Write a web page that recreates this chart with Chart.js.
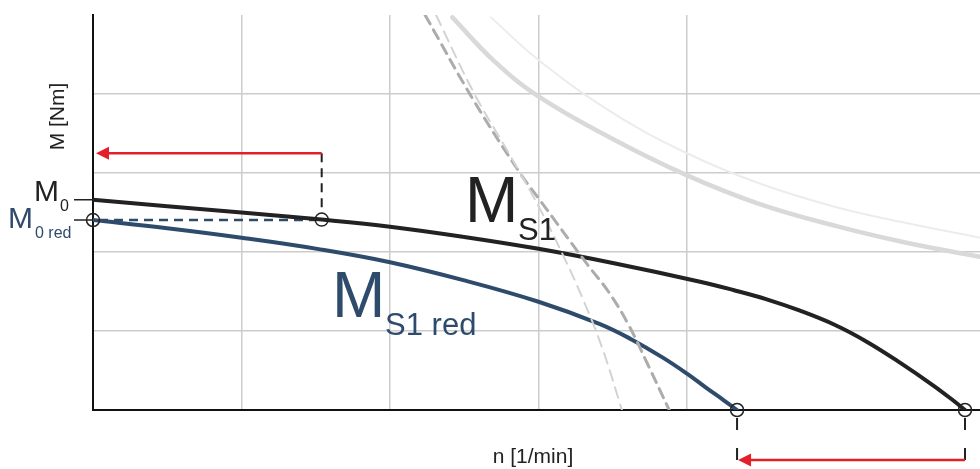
<!DOCTYPE html>
<html><head><meta charset="utf-8">
<script src="https://cdn.jsdelivr.net/npm/chart.js@4/dist/chart.umd.min.js"></script>
<style>html,body{margin:0;padding:0;background:#fff;overflow:hidden}</style>
</head><body>
<canvas id="c" width="980" height="469"></canvas>
<script>
// ---- data (speed and torque in grid units) ----
const ms1Speed      = [0, 1.0, 1.54, 2.0, 2.5, 3.0, 3.5, 4.088, 4.312, 4.537, 4.761, 4.997, 5.21, 5.434, 5.659, 5.793, 5.872];
const ms1Torque     = [2.66, 2.50, 2.41, 2.32, 2.19, 2.04, 1.86, 1.624, 1.519, 1.401, 1.257, 1.076, 0.865, 0.60, 0.31, 0.12, 0];
const ms1RedSpeed   = [0, 0.5, 1.0, 1.54, 2.0, 2.5, 3.0, 3.41, 3.62, 3.84, 4.0, 4.13, 4.25, 4.337];
const ms1RedTorque  = [2.405, 2.30, 2.18, 2.03, 1.87, 1.64, 1.37, 1.09, 0.90, 0.66, 0.46, 0.28, 0.12, 0];
const limDarkSpeed  = [2.236, 2.563, 2.875, 3.0, 3.33, 3.47, 3.6, 3.74, 3.88];
const limDarkTorque = [5.0, 3.92, 3.0, 2.68, 1.84, 1.50, 1.10, 0.56, 0];
const limLightSpeed = [2.31, 2.566, 2.80, 3.0, 3.16, 3.30, 3.43, 3.562];
const limLightTorque= [5.0, 4.01, 3.25, 2.58, 1.98, 1.40, 0.78, 0];
const powThickSpeed = [2.42, 2.7, 3.0, 3.5, 4.0, 4.485, 5.0, 5.47, 5.973];
const powThickTorque= [4.97, 4.42, 3.97, 3.43, 2.97, 2.61, 2.33, 2.12, 1.94];
const powThinSpeed  = [2.68, 3.0, 3.5, 4.0, 4.485, 5.0, 5.47, 5.973];
const powThinTorque = [4.97, 4.43, 3.76, 3.25, 2.87, 2.57, 2.37, 2.18];
const xMax = 5.973, yMax = 5;
// markers
const m0 = 2.66, m0Red = 2.405;
const nReduce = 1.54, mAtReduce = 2.41;
const arrowTopTorque = 3.25;
const nMaxRed = 4.337, nMax = 5.872;

const FONT = '"Liberation Sans", Arial, Helvetica, sans-serif';
const BLUE = '#2f4b6c', BLACK = '#222222', RED = '#e3202a';
const pts = (xs, ys) => xs.map((x, i) => ({x, y: ys[i]}));

function arrowLeft(ctx, x1, x2, y, color) {
  ctx.save();
  ctx.strokeStyle = color; ctx.fillStyle = color; ctx.lineWidth = 2.5; ctx.setLineDash([]);
  ctx.beginPath(); ctx.moveTo(x1, y); ctx.lineTo(x2 + 10, y); ctx.stroke();
  ctx.beginPath(); ctx.moveTo(x2, y); ctx.lineTo(x2 + 13, y - 6.5); ctx.lineTo(x2 + 13, y + 6.5); ctx.closePath(); ctx.fill();
  ctx.restore();
}
function circ(ctx, x, y) {
  ctx.save(); ctx.setLineDash([]); ctx.strokeStyle = BLACK; ctx.lineWidth = 1.5;
  ctx.beginPath(); ctx.arc(x, y, 6.5, 0, Math.PI * 2); ctx.stroke(); ctx.restore();
}
function dashed(ctx, x1, y1, x2, y2, color, w, dash, off) {
  ctx.save(); ctx.strokeStyle = color; ctx.lineWidth = w; ctx.setLineDash(dash); ctx.lineDashOffset = off || 0;
  ctx.beginPath(); ctx.moveTo(x1, y1); ctx.lineTo(x2, y2); ctx.stroke(); ctx.restore();
}
function txt(ctx, s, x, y, size, color) {
  ctx.font = size + 'px ' + FONT; ctx.fillStyle = color; ctx.textAlign = 'left'; ctx.textBaseline = 'alphabetic';
  ctx.fillText(s, x, y);
}

const annot = {
  id: 'annot',
  beforeDatasetsDraw(chart) {
    const ctx = chart.ctx, xs = chart.scales.x, ys = chart.scales.y;
    const X = v => xs.getPixelForValue(v), Y = v => ys.getPixelForValue(v);
    dashed(ctx, X(0) + 6, Y(m0Red), X(nReduce) - 6, Y(m0Red), BLUE, 2.5, [9, 6]);
    dashed(ctx, X(nReduce), Y(arrowTopTorque), X(nReduce), Y(mAtReduce) - 6, BLACK, 2, [9, 6]);
  },
  afterDatasetsDraw(chart) {
    const ctx = chart.ctx, xs = chart.scales.x, ys = chart.scales.y, a = chart.chartArea;
    const X = v => xs.getPixelForValue(v), Y = v => ys.getPixelForValue(v);
    ctx.save();
    ctx.strokeStyle = BLACK; ctx.lineWidth = 1.5;
    ctx.beginPath(); ctx.moveTo(a.left - 19, Y(m0)); ctx.lineTo(a.left, Y(m0));
    ctx.moveTo(a.left - 19, Y(m0Red)); ctx.lineTo(a.left, Y(m0Red)); ctx.stroke();
    arrowLeft(ctx, X(nReduce), X(0) + 3, Y(arrowTopTorque), RED);
    const yb = a.bottom;
    dashed(ctx, X(nMaxRed), yb + 8, X(nMaxRed), yb + 54, BLACK, 2, [12, 18]);
    dashed(ctx, X(nMax), yb + 8, X(nMax), yb + 54, BLACK, 2, [12, 18]);
    arrowLeft(ctx, X(nMax), X(nMaxRed) + 1, yb + 50, RED);
    circ(ctx, X(0), Y(m0Red));
    circ(ctx, X(nReduce), Y(mAtReduce));
    circ(ctx, X(nMaxRed), Y(0));
    circ(ctx, X(nMax), Y(0));
    txt(ctx, 'M', a.left - 59, Y(m0) + 1, 30, BLACK);
    txt(ctx, '0', a.left - 33, Y(m0) + 11, 16, BLACK);
    txt(ctx, 'M', a.left - 85, Y(m0Red) + 8, 30, BLUE);
    txt(ctx, '0 red', a.left - 58, Y(m0Red) + 18, 16, BLUE);
    txt(ctx, 'M', X(2.505), Y(2.38), 64, BLACK);
    txt(ctx, 'S1', X(2.505) + 53, Y(2.38) + 18, 31, BLACK);
    txt(ctx, 'M', X(1.61), Y(1.177), 64, BLUE);
    txt(ctx, 'S1 red', X(1.61) + 53, Y(1.177) + 18, 31, BLUE);
    ctx.font = '21px ' + FONT; ctx.fillStyle = BLACK; ctx.textAlign = 'center'; ctx.textBaseline = 'alphabetic';
    ctx.fillText('n [1/min]', 533, yb + 53);
    ctx.translate(a.left - 29, 116.5); ctx.rotate(-Math.PI / 2);
    ctx.fillText('M [Nm]', 0, 0);
    ctx.restore();
  }
};

const gridColor = c => (c.tick && Number.isInteger(c.tick.value) && c.tick.value > 0 && c.tick.value < 5) ? '#cccccc' : 'rgba(0,0,0,0)';

new Chart(document.getElementById('c').getContext('2d'), {
  type: 'line',
  data: { datasets: [
    { data: pts(powThinSpeed, powThinTorque), borderColor: '#ececec', borderWidth: 2 },
    { data: pts(powThickSpeed, powThickTorque), borderColor: '#d9d9d9', borderWidth: 4.5 },
    { data: pts(limLightSpeed, limLightTorque), borderColor: '#d3d3d3', borderWidth: 2, borderDash: [11, 7] },
    { data: pts(limDarkSpeed, limDarkTorque), borderColor: '#acacac', borderWidth: 3, borderDash: [10, 7] },
    { data: pts(ms1RedSpeed, ms1RedTorque), borderColor: BLUE, borderWidth: 4 },
    { data: pts(ms1Speed, ms1Torque), borderColor: BLACK, borderWidth: 4 }
  ]},
  options: {
    responsive: false, animation: false, devicePixelRatio: 1,
    layout: { padding: { left: 93, top: 15, right: 0, bottom: 59 } },
    elements: { point: { radius: 0 }, line: { tension: 0.4, fill: false, borderCapStyle: 'round', borderJoinStyle: 'round' } },
    plugins: { legend: { display: false }, tooltip: { enabled: false } },
    scales: {
      x: { type: 'linear', min: 0, max: xMax, ticks: { display: false, stepSize: 1 },
           grid: { color: gridColor, lineWidth: 1.5, drawTicks: false },
           border: { display: true, color: '#111', width: 2 } },
      y: { type: 'linear', min: 0, max: yMax, ticks: { display: false, stepSize: 1 },
           grid: { color: gridColor, lineWidth: 1.5, drawTicks: false },
           border: { display: true, color: '#111', width: 2 } }
    }
  },
  plugins: [annot]
});
</script>
</body></html>
